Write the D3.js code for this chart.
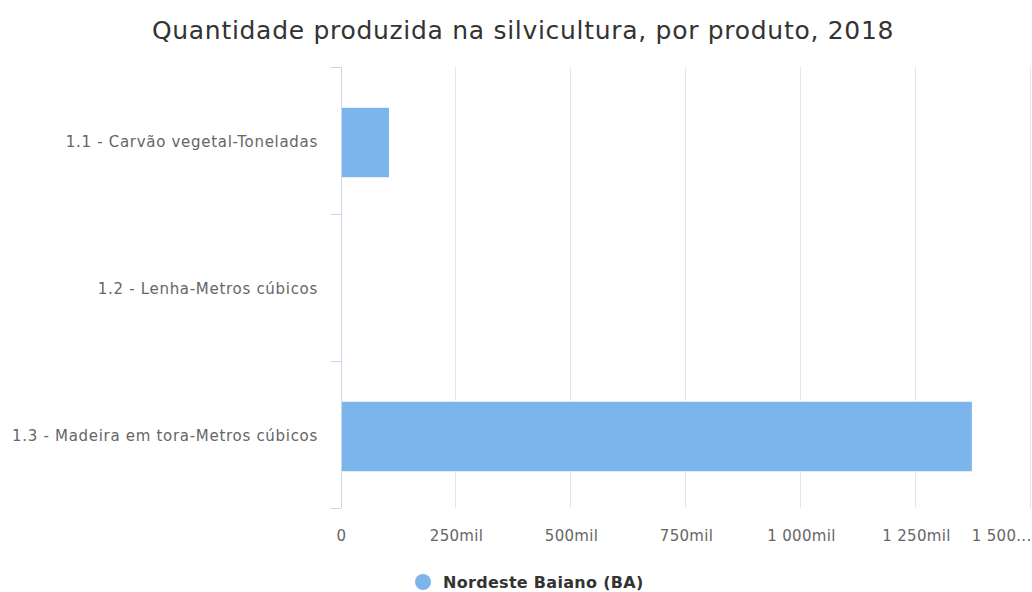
<!DOCTYPE html>
<html>
<head>
<meta charset="utf-8">
<script src="https://cdn.jsdelivr.net/npm/d3@7"></script>
<style>
  body { margin: 0; background: #fff; }
  text { font-family: "DejaVu Sans", sans-serif; }
</style>
</head>
<body>
<div id="chart"></div>
<script>
// Data
const categories = [
  "1.1 - Carvão vegetal-Toneladas",
  "1.2 - Lenha-Metros cúbicos",
  "1.3 - Madeira em tora-Metros cúbicos"
];
const values = [105400, 0, 1372500];
const xTicks = [0, 250000, 500000, 750000, 1000000, 1250000, 1500000];
const seriesName = "Nordeste Baiano (BA)";
const title = "Quantidade produzida na silvicultura, por produto, 2018";

const width = 1032;
const height = 592;
const margin = { top: 67, right: 1, bottom: 84, left: 341 };
const plotW = width - margin.left - margin.right;
const plotH = height - margin.top - margin.bottom;
const barColor = "#7cb5ec";

const svg = d3.select("#chart")
  .append("svg")
  .attr("width", width)
  .attr("height", height);

svg.append("text")
  .attr("x", width / 2 + 7)
  .attr("y", 39)
  .attr("text-anchor", "middle")
  .attr("fill", "#333333")
  .style("font-size", "25px")
  .style("letter-spacing", "0.7px")
  .text(title);

const g = svg.append("g")
  .attr("transform", `translate(${margin.left}, ${margin.top})`);

const xScale = d3.scaleLinear().domain([0, 1500000]).range([0, plotW]);
const yScale = d3.scaleBand().domain(categories).range([0, plotH]).paddingInner(0).paddingOuter(0);

// Grid lines
g.selectAll(".grid")
  .data(xTicks.slice(1))
  .join("line")
  .attr("class", "grid")
  .attr("x1", d => xScale(d) - 0.5)
  .attr("x2", d => xScale(d) - 0.5)
  .attr("y1", 0)
  .attr("y2", plotH)
  .attr("stroke", "#e6e6e6")
  .attr("stroke-width", 1);

// Bars
const barH = yScale.bandwidth() * 0.48;
g.selectAll(".bar")
  .data(values)
  .join("rect")
  .attr("class", "bar")
  .attr("x", 0)
  .attr("y", (d, i) => yScale(categories[i]) + (yScale.bandwidth() - barH) / 2 + 2)
  .attr("width", d => xScale(d))
  .attr("height", barH)
  .attr("fill", barColor)
  .attr("stroke", "#ffffff")
  .attr("stroke-width", 1);

// X axis labels
const fmt = d => d === 0 ? "0" : d3.format(",")(d / 1000).replace(/,/g, " ") + "mil";
const xAxis = d3.axisBottom(xScale)
  .tickValues(xTicks)
  .tickSize(0)
  .tickPadding(22)
  .tickFormat(fmt);

const xg = g.append("g")
  .attr("transform", `translate(0, ${plotH})`)
  .call(xAxis);
xg.select(".domain").remove();
xg.selectAll("text")
  .attr("fill", "#666666")
  .style("font-size", "15px")
  .style("letter-spacing", "0.3px")
  .style("font-family", "DejaVu Sans, sans-serif");
xg.selectAll("text")
  .filter(d => d === 1500000)
  .attr("text-anchor", "end")
  .text("1 500...");

// Y axis
const yAxis = d3.axisLeft(yScale).tickSize(0).tickPadding(23);
const yg = g.append("g").call(yAxis);
yg.select(".domain").remove();
yg.selectAll("text")
  .attr("fill", "#666666")
  .attr("dy", "0.32em")
  .attr("y", 2)
  .style("font-size", "15px")
  .style("letter-spacing", "0.7px")
  .style("font-family", "DejaVu Sans, sans-serif");

// axis line and category ticks
g.append("line")
  .attr("x1", 0.5).attr("x2", 0.5)
  .attr("y1", 0).attr("y2", plotH)
  .attr("stroke", "#ccd6eb");
const bounds = categories.map(c => yScale(c)).concat([plotH]);
g.selectAll(".ytick")
  .data(bounds)
  .join("line")
  .attr("class", "ytick")
  .attr("x1", -10).attr("x2", 0)
  .attr("y1", d => d + 0.5).attr("y2", d => d + 0.5)
  .attr("stroke", "#ccd6eb");

// Legend
const legend = svg.append("g")
  .attr("transform", `translate(${width / 2}, 582)`);
legend.append("circle")
  .attr("cx", -93)
  .attr("cy", 0)
  .attr("r", 8)
  .attr("fill", barColor);
legend.append("text")
  .attr("x", -73)
  .attr("y", 6)
  .attr("fill", "#333333")
  .style("font-size", "16px")
  .style("font-weight", "bold")
  .style("letter-spacing", "0.3px")
  .text(seriesName);
</script>
</body>
</html>
